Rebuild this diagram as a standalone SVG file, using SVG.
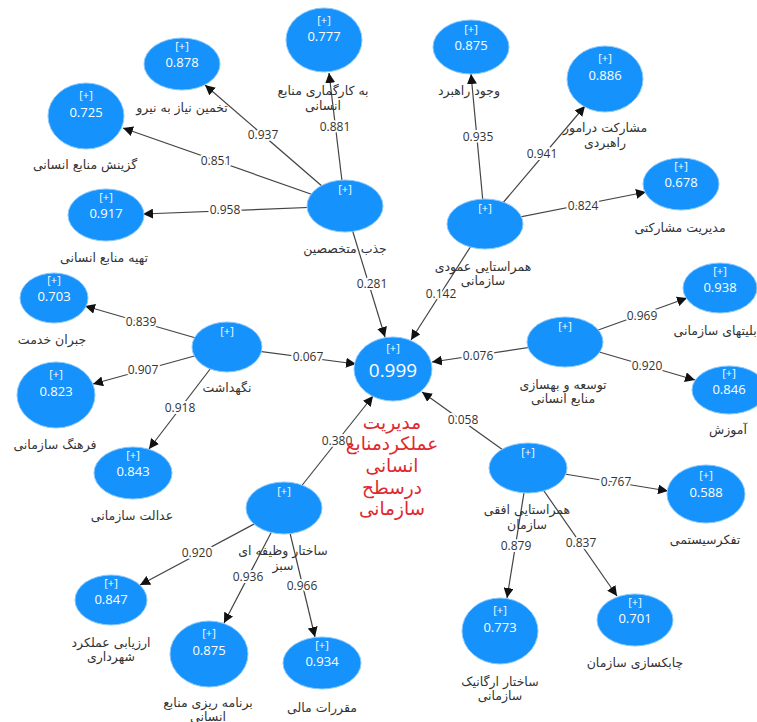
<svg xmlns="http://www.w3.org/2000/svg" width="757" height="722" viewBox="0 0 757 722">
<defs>
<marker id="arr" viewBox="0 0 10 10" refX="10" refY="5" markerWidth="10" markerHeight="10" markerUnits="userSpaceOnUse" orient="auto">
<path d="M0,0 L10,5 L0,10 z" fill="#111"/>
</marker>
<style>
.edge{stroke:#444;stroke-width:1.2;fill:none;marker-end:url(#arr)}
.el{font-family:"Open Sans","Noto Sans",sans-serif;font-size:12px;fill:#333;text-anchor:middle;stroke:#fff;stroke-width:4;paint-order:stroke;stroke-linejoin:round}
.n{fill:#1592fb;stroke:#8cc8fb;stroke-width:1}
.pl{font-family:"Open Sans","Noto Sans",sans-serif;font-size:11px;fill:#fff;text-anchor:middle}
.v{font-family:"Open Sans","Noto Sans",sans-serif;font-size:13px;fill:#fff;text-anchor:middle}
.vb{font-family:"Open Sans","Noto Sans",sans-serif;font-size:19px;fill:#fff;text-anchor:middle}
.lb{font-family:"DejaVu Sans",sans-serif;font-size:12.5px;fill:#333;text-anchor:middle}
.red{font-family:"DejaVu Sans",sans-serif;font-size:18.5px;fill:#e0282e;text-anchor:middle}
</style>
</defs>
<rect width="757" height="722" fill="#fff"/>
<g id="connectors">
<line class="edge" x1="345" y1="206" x2="205" y2="85"/>
<line class="edge" x1="345" y1="206" x2="329" y2="73"/>
<line class="edge" x1="345" y1="206" x2="123" y2="128"/>
<line class="edge" x1="345" y1="206" x2="143" y2="214"/>
<line class="edge" x1="345" y1="206" x2="385" y2="337"/>
<line class="edge" x1="485" y1="224" x2="471" y2="74"/>
<line class="edge" x1="485" y1="224" x2="585" y2="106"/>
<line class="edge" x1="485" y1="224" x2="646" y2="192"/>
<line class="edge" x1="485" y1="224" x2="411" y2="340"/>
<line class="edge" x1="227" y1="347" x2="85" y2="306"/>
<line class="edge" x1="227" y1="347" x2="93" y2="384"/>
<line class="edge" x1="227" y1="347" x2="149" y2="449"/>
<line class="edge" x1="227" y1="347" x2="356" y2="364"/>
<line class="edge" x1="565" y1="342" x2="432" y2="362"/>
<line class="edge" x1="565" y1="342" x2="687" y2="298"/>
<line class="edge" x1="565" y1="342" x2="695" y2="380"/>
<line class="edge" x1="528" y1="468" x2="422" y2="392"/>
<line class="edge" x1="528" y1="468" x2="668" y2="491"/>
<line class="edge" x1="528" y1="468" x2="507" y2="598"/>
<line class="edge" x1="528" y1="468" x2="617" y2="596"/>
<line class="edge" x1="284" y1="508" x2="373" y2="396"/>
<line class="edge" x1="284" y1="508" x2="140" y2="585"/>
<line class="edge" x1="284" y1="508" x2="224" y2="623"/>
<line class="edge" x1="284" y1="508" x2="315" y2="637"/>
<g id="edge-labels">
<text class="el" x="263" y="139">0.937</text>
<text class="el" x="335" y="131">0.881</text>
<text class="el" x="216" y="165">0.851</text>
<text class="el" x="225" y="214">0.958</text>
<text class="el" x="372" y="288">0.281</text>
<text class="el" x="478" y="141">0.935</text>
<text class="el" x="542" y="158">0.941</text>
<text class="el" x="583" y="210">0.824</text>
<text class="el" x="441" y="298">0.142</text>
<text class="el" x="141" y="326">0.839</text>
<text class="el" x="143" y="374">0.907</text>
<text class="el" x="180" y="412">0.918</text>
<text class="el" x="308" y="361">0.067</text>
<text class="el" x="337" y="445">0.380</text>
<text class="el" x="463" y="424">0.058</text>
<text class="el" x="478" y="360">0.076</text>
<text class="el" x="642" y="320">0.969</text>
<text class="el" x="647" y="370">0.920</text>
<text class="el" x="616" y="486">0.767</text>
<text class="el" x="516" y="550">0.879</text>
<text class="el" x="581" y="547">0.837</text>
<text class="el" x="197" y="557">0.920</text>
<text class="el" x="248" y="581">0.936</text>
<text class="el" x="302" y="590">0.966</text>
</g>
</g>
<g id="n-karg"><ellipse class="n" cx="324" cy="40" rx="38" ry="32"/><text class="pl" x="324" y="24">[+]</text><text class="v" x="324" y="41">0.777</text><text class="lb" x="323" y="95">به کارگماری منابع</text><text class="lb" x="323" y="110">انسانی</text></g>
<g id="n-takhmin"><ellipse class="n" cx="182" cy="64" rx="38" ry="26"/><text class="pl" x="182" y="50">[+]</text><text class="v" x="182" y="67">0.878</text><text class="lb" x="182" y="112">تخمین نیاز به نیرو</text></g>
<g id="n-gozinesh"><ellipse class="n" cx="86" cy="116" rx="38" ry="33"/><text class="pl" x="86" y="99">[+]</text><text class="v" x="86" y="117">0.725</text><text class="lb" x="85" y="169">گزینش منابع انسانی</text></g>
<g id="n-tahiye"><ellipse class="n" cx="106" cy="215" rx="38" ry="26"/><text class="pl" x="106" y="201">[+]</text><text class="v" x="106" y="218">0.917</text><text class="lb" x="104" y="262">تهیه منابع انسانی</text></g>
<g id="n-jazb"><ellipse class="n" cx="345" cy="206" rx="38" ry="26"/><text class="pl" x="345" y="193">[+]</text><text class="lb" x="345" y="253">جذب متخصصین</text></g>
<g id="n-vojood"><ellipse class="n" cx="471" cy="47" rx="38" ry="27"/><text class="pl" x="471" y="33">[+]</text><text class="v" x="471" y="50">0.875</text><text class="lb" x="469" y="95">وجود راهبرد</text></g>
<g id="n-mosharekat"><ellipse class="n" cx="605" cy="79" rx="38" ry="33"/><text class="pl" x="605" y="62">[+]</text><text class="v" x="605" y="80">0.886</text><text class="lb" x="605" y="132">مشارکت درامور</text><text class="lb" x="605" y="147">راهبردی</text></g>
<g id="n-modiriat"><ellipse class="n" cx="681" cy="184" rx="38" ry="26"/><text class="pl" x="681" y="170">[+]</text><text class="v" x="681" y="187">0.678</text><text class="lb" x="680" y="232">مدیریت مشارکتی</text></g>
<g id="n-amoodi"><ellipse class="n" cx="485" cy="224" rx="38" ry="25"/><text class="pl" x="485" y="212">[+]</text><text class="lb" x="483" y="271">همراستایی عمودی</text><text class="lb" x="483" y="285">سازمانی</text></g>
<g id="n-ghabeliat"><ellipse class="n" cx="720" cy="288" rx="37" ry="25"/><text class="pl" x="720" y="275">[+]</text><text class="v" x="720" y="292">0.938</text><text class="lb" x="720" y="335">قابلیتهای سازمانی</text></g>
<g id="n-tose"><ellipse class="n" cx="565" cy="342" rx="38" ry="25"/><text class="pl" x="565" y="330">[+]</text><text class="lb" x="563" y="389">توسعه و بهسازی</text><text class="lb" x="563" y="403">منابع انسانی</text></g>
<g id="n-amoozesh"><ellipse class="n" cx="729" cy="390" rx="37" ry="24"/><text class="pl" x="729" y="377">[+]</text><text class="v" x="729" y="394">0.846</text><text class="lb" x="728" y="434">آموزش</text></g>
<g id="n-jobran"><ellipse class="n" cx="54" cy="298" rx="34" ry="25"/><text class="pl" x="54" y="284">[+]</text><text class="v" x="54" y="301">0.703</text><text class="lb" x="52" y="344">جبران خدمت</text></g>
<g id="n-negahdasht"><ellipse class="n" cx="227" cy="347" rx="35" ry="25"/><text class="pl" x="227" y="335">[+]</text><text class="lb" x="227" y="392">نگهداشت</text></g>
<g id="n-farhang"><ellipse class="n" cx="56" cy="395" rx="39" ry="33"/><text class="pl" x="56" y="378">[+]</text><text class="v" x="56" y="396">0.823</text><text class="lb" x="55" y="449">فرهنگ سازمانی</text></g>
<g id="n-edalat"><ellipse class="n" cx="133" cy="473" rx="39" ry="26"/><text class="pl" x="133" y="459">[+]</text><text class="v" x="133" y="476">0.843</text><text class="lb" x="132" y="520">عدالت سازمانی</text></g>
<g id="n-central"><ellipse class="n" cx="393" cy="369" rx="39" ry="32"/><text class="pl" x="393" y="352">[+]</text><text class="vb" x="393" y="377">0.999</text></g>
<g id="n-ofoghi"><ellipse class="n" cx="528" cy="468" rx="39" ry="25"/><text class="pl" x="528" y="456">[+]</text><text class="lb" x="527" y="514">همراستایی افقی</text><text class="lb" x="527" y="529">سازمان</text></g>
<g id="n-tafakor"><ellipse class="n" cx="706" cy="494" rx="39" ry="29"/><text class="pl" x="706" y="479">[+]</text><text class="v" x="706" y="497">0.588</text><text class="lb" x="705" y="544">تفکرسیستمی</text></g>
<g id="n-organic"><ellipse class="n" cx="500" cy="631" rx="38" ry="33"/><text class="pl" x="500" y="614">[+]</text><text class="v" x="500" y="632">0.773</text><text class="lb" x="500" y="686">ساختار ارگانیک</text><text class="lb" x="500" y="700">سازمانی</text></g>
<g id="n-chabok"><ellipse class="n" cx="635" cy="620" rx="38" ry="26"/><text class="pl" x="635" y="606">[+]</text><text class="v" x="635" y="623">0.701</text><text class="lb" x="635" y="667">چابکسازی سازمان</text></g>
<g id="n-sakhtar"><ellipse class="n" cx="284" cy="508" rx="38" ry="26"/><text class="pl" x="284" y="495">[+]</text><text class="lb" x="283" y="555">ساختار وظیفه ای</text><text class="lb" x="283" y="570">سبز</text></g>
<g id="n-arzyabi"><ellipse class="n" cx="111" cy="600" rx="36" ry="25"/><text class="pl" x="111" y="587">[+]</text><text class="v" x="111" y="604">0.847</text><text class="lb" x="111" y="647">ارزیابی عملکرد</text><text class="lb" x="111" y="661">شهرداری</text></g>
<g id="n-barname"><ellipse class="n" cx="209" cy="654" rx="39" ry="33"/><text class="pl" x="209" y="637">[+]</text><text class="v" x="209" y="655">0.875</text><text class="lb" x="208" y="707">برنامه ریزی منابع</text><text class="lb" x="208" y="721">انسانی</text></g>
<g id="n-moghararat"><ellipse class="n" cx="322" cy="663" rx="39" ry="26"/><text class="pl" x="322" y="649">[+]</text><text class="v" x="322" y="666">0.934</text><text class="lb" x="322" y="712">مقررات مالی</text></g>
<g id="title">
<text class="red" x="392" y="429">مدیریت</text>
<text class="red" x="392" y="450">عملکردمنابع</text>
<text class="red" x="392" y="472">انسانی</text>
<text class="red" x="392" y="494">درسطح</text>
<text class="red" x="392" y="515">سازمانی</text>
</g>
</svg>
